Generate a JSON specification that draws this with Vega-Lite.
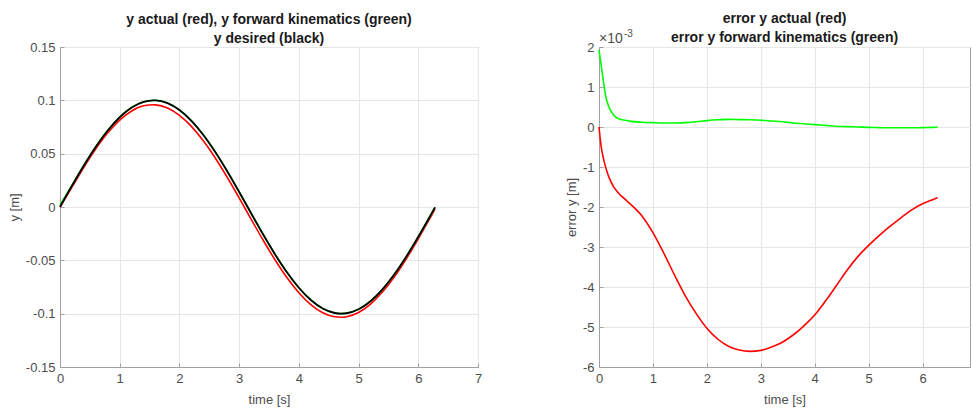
{
  "$schema": "https://vega.github.io/schema/vega-lite/v6.json",
  "padding": {"left": 7, "right": 0, "top": 11, "bottom": 0},
  "background": "white",
  "datasets": {
    "pos": [
      {"t": 0, "desired": 0, "actual": 0, "fk": 0.00193},
      {"t": 0.2, "desired": 0.019867, "actual": 0.01857, "fk": 0.02032},
      {"t": 0.4, "desired": 0.038942, "actual": 0.03724, "fk": 0.03913},
      {"t": 0.6, "desired": 0.056464, "actual": 0.05451, "fk": 0.0566},
      {"t": 0.8, "desired": 0.071736, "actual": 0.06951, "fk": 0.07186},
      {"t": 1.0, "desired": 0.084147, "actual": 0.08151, "fk": 0.08426},
      {"t": 1.2, "desired": 0.093204, "actual": 0.09005, "fk": 0.0933},
      {"t": 1.4, "desired": 0.098545, "actual": 0.09485, "fk": 0.09865},
      {"t": 1.57, "desired": 0.1, "actual": 0.09585, "fk": 0.10011},
      {"t": 1.6, "desired": 0.099957, "actual": 0.09574, "fk": 0.10007},
      {"t": 1.8, "desired": 0.097385, "actual": 0.09273, "fk": 0.09752},
      {"t": 2.0, "desired": 0.09093, "actual": 0.0859, "fk": 0.09109},
      {"t": 2.2, "desired": 0.08085, "actual": 0.07555, "fk": 0.08103},
      {"t": 2.4, "desired": 0.067546, "actual": 0.06207, "fk": 0.06774},
      {"t": 2.6, "desired": 0.05155, "actual": 0.04598, "fk": 0.05173},
      {"t": 2.8, "desired": 0.033499, "actual": 0.02789, "fk": 0.03368},
      {"t": 3.0, "desired": 0.014112, "actual": 0.00852, "fk": 0.01428},
      {"t": 3.2, "desired": -0.005837, "actual": -0.01134, "fk": -0.00569},
      {"t": 3.4, "desired": -0.025554, "actual": -0.03093, "fk": -0.02542},
      {"t": 3.6, "desired": -0.044252, "actual": -0.04945, "fk": -0.04415},
      {"t": 3.8, "desired": -0.061186, "actual": -0.06616, "fk": -0.06111},
      {"t": 4.0, "desired": -0.07568, "actual": -0.08038, "fk": -0.07562},
      {"t": 4.2, "desired": -0.087158, "actual": -0.09151, "fk": -0.08712},
      {"t": 4.4, "desired": -0.09516, "actual": -0.09913, "fk": -0.09514},
      {"t": 4.6, "desired": -0.099369, "actual": -0.10295, "fk": -0.09936},
      {"t": 4.71, "desired": -0.1, "actual": -0.10339, "fk": -0.1},
      {"t": 4.8, "desired": -0.099616, "actual": -0.10286, "fk": -0.09962},
      {"t": 5.0, "desired": -0.095892, "actual": -0.09885, "fk": -0.0959},
      {"t": 5.2, "desired": -0.088345, "actual": -0.09106, "fk": -0.08835},
      {"t": 5.4, "desired": -0.077276, "actual": -0.07976, "fk": -0.0773},
      {"t": 5.6, "desired": -0.063127, "actual": -0.0654, "fk": -0.06315},
      {"t": 5.8, "desired": -0.04646, "actual": -0.04853, "fk": -0.04648},
      {"t": 6.0, "desired": -0.027942, "actual": -0.02986, "fk": -0.02796},
      {"t": 6.2, "desired": -0.008309, "actual": -0.01012, "fk": -0.00832},
      {"t": 6.28, "desired": -0.000319, "actual": -0.00209, "fk": -0.00032}
    ],
    "err": [
      {"t": 0, "ea": 0, "ef": 0.00193},
      {"t": 0.04, "ea": -0.00049, "ef": 0.00155},
      {"t": 0.08, "ea": -0.00077, "ef": 0.00116},
      {"t": 0.12, "ea": -0.00099, "ef": 0.0008},
      {"t": 0.18, "ea": -0.00124, "ef": 0.00051},
      {"t": 0.27, "ea": -0.00149, "ef": 0.0003},
      {"t": 0.36, "ea": -0.00165, "ef": 0.00021},
      {"t": 0.46, "ea": -0.00178, "ef": 0.000175},
      {"t": 0.6, "ea": -0.00195, "ef": 0.00014},
      {"t": 0.8, "ea": -0.00223, "ef": 0.00012},
      {"t": 1.0, "ea": -0.00264, "ef": 0.00011},
      {"t": 1.2, "ea": -0.00315, "ef": 0.0001},
      {"t": 1.4, "ea": -0.0037, "ef": 0.0001},
      {"t": 1.6, "ea": -0.00422, "ef": 0.00011},
      {"t": 1.8, "ea": -0.00466, "ef": 0.00013},
      {"t": 2.0, "ea": -0.00503, "ef": 0.00016},
      {"t": 2.2, "ea": -0.0053, "ef": 0.00018},
      {"t": 2.4, "ea": -0.00548, "ef": 0.00019},
      {"t": 2.6, "ea": -0.005575, "ef": 0.000185},
      {"t": 2.8, "ea": -0.00561, "ef": 0.00018},
      {"t": 3.0, "ea": -0.005585, "ef": 0.00017},
      {"t": 3.2, "ea": -0.0055, "ef": 0.00015},
      {"t": 3.4, "ea": -0.00538, "ef": 0.00013},
      {"t": 3.6, "ea": -0.0052, "ef": 0.0001},
      {"t": 3.8, "ea": -0.00497, "ef": 0.00008},
      {"t": 4.0, "ea": -0.0047, "ef": 0.00006},
      {"t": 4.2, "ea": -0.00435, "ef": 0.00004},
      {"t": 4.4, "ea": -0.00397, "ef": 0.00002},
      {"t": 4.6, "ea": -0.00358, "ef": 0.00001},
      {"t": 4.8, "ea": -0.00324, "ef": 0.0},
      {"t": 5.0, "ea": -0.00296, "ef": -0.00001},
      {"t": 5.2, "ea": -0.00271, "ef": -0.000015},
      {"t": 5.4, "ea": -0.00248, "ef": -0.00002},
      {"t": 5.6, "ea": -0.00227, "ef": -0.00002},
      {"t": 5.8, "ea": -0.00207, "ef": -0.00002},
      {"t": 6.0, "ea": -0.00192, "ef": -0.000015},
      {"t": 6.2, "ea": -0.00181, "ef": -0.00001},
      {"t": 6.28, "ea": -0.00177, "ef": 0.0}
    ]
  },
  "spacing": 81,
  "hconcat": [
    {
      "width": 418,
      "height": 320,
      "title": {"text": ["y actual (red), y forward kinematics (green)", "y desired (black)"]},
      "data": {"name": "pos"},
      "encoding": {
        "x": {"field": "t", "type": "quantitative", "scale": {"domain": [0, 7], "nice": false}, "axis": {"title": "time [s]", "values": [0, 1, 2, 3, 4, 5, 6, 7]}}
      },
      "layer": [
        {"mark": {"type": "line", "color": "#ff0000", "strokeWidth": 1.6, "interpolate": "monotone"},
         "encoding": {"y": {"field": "actual", "type": "quantitative", "scale": {"domain": [-0.15, 0.15], "nice": false}, "axis": {"title": "y [m]", "values": [-0.15, -0.1, -0.05, 0, 0.05, 0.1, 0.15], "labelExpr": "toString(datum.value)"}}}},
        {"mark": {"type": "line", "color": "#00ff00", "strokeWidth": 1.6, "interpolate": "monotone"},
         "encoding": {"y": {"field": "fk", "type": "quantitative", "scale": {"domain": [-0.15, 0.15], "nice": false}, "axis": {"title": "y [m]", "values": [-0.15, -0.1, -0.05, 0, 0.05, 0.1, 0.15], "labelExpr": "toString(datum.value)"}}}},
        {"mark": {"type": "line", "color": "#000000", "strokeWidth": 1.8, "interpolate": "monotone"},
         "encoding": {"y": {"field": "desired", "type": "quantitative", "scale": {"domain": [-0.15, 0.15], "nice": false}, "axis": {"title": "y [m]", "values": [-0.15, -0.1, -0.05, 0, 0.05, 0.1, 0.15], "labelExpr": "toString(datum.value)"}}}}
      ]
    },
    {
      "width": 371,
      "height": 320,
      "title": {"text": ["error y actual (red)", "error y forward kinematics (green)"], "dy": 11},
      "data": {"name": "err"},
      "encoding": {
        "x": {"field": "t", "type": "quantitative", "scale": {"domain": [0, 6.88], "nice": false}, "axis": {"title": "time [s]", "values": [0, 1, 2, 3, 4, 5, 6]}}
      },
      "layer": [
        {"mark": {"type": "line", "color": "#00ff00", "strokeWidth": 1.6, "interpolate": "monotone"},
         "encoding": {"y": {"field": "ef", "type": "quantitative", "scale": {"domain": [-0.006, 0.002], "nice": false}, "axis": {"title": "error y [m]", "values": [-0.006, -0.005, -0.004, -0.003, -0.002, -0.001, 0, 0.001, 0.002], "labelExpr": "toString(round(datum.value * 1000))"}}}},
        {"mark": {"type": "line", "color": "#ff0000", "strokeWidth": 1.6, "interpolate": "monotone"},
         "encoding": {"y": {"field": "ea", "type": "quantitative", "scale": {"domain": [-0.006, 0.002], "nice": false}, "axis": {"title": "error y [m]", "values": [-0.006, -0.005, -0.004, -0.003, -0.002, -0.001, 0, 0.001, 0.002], "labelExpr": "toString(round(datum.value * 1000))"}}}},
        {"data": {"values": [{"t": 0, "v": 0.002, "label": "×10"}]},
         "mark": {"type": "text", "align": "left", "baseline": "bottom", "dy": -1, "fontSize": 14, "color": "#4d4d4d", "font": "Liberation Sans"},
         "encoding": {"y": {"field": "v", "type": "quantitative", "scale": {"domain": [-0.006, 0.002], "nice": false}, "axis": {"title": "error y [m]", "values": [-0.006, -0.005, -0.004, -0.003, -0.002, -0.001, 0, 0.001, 0.002], "labelExpr": "toString(round(datum.value * 1000))"}}, "text": {"field": "label"}}},
        {"data": {"values": [{"t": 0, "v": 0.002, "label": "-3"}]},
         "mark": {"type": "text", "align": "left", "baseline": "bottom", "dx": 25, "dy": -8, "fontSize": 10, "color": "#4d4d4d", "font": "Liberation Sans"},
         "encoding": {"y": {"field": "v", "type": "quantitative", "scale": {"domain": [-0.006, 0.002], "nice": false}, "axis": {"title": "error y [m]", "values": [-0.006, -0.005, -0.004, -0.003, -0.002, -0.001, 0, 0.001, 0.002], "labelExpr": "toString(round(datum.value * 1000))"}}, "text": {"field": "label"}}}
      ]
    }
  ],
  "config": {
    "font": "Liberation Sans",
    "view": {"stroke": "#a0a0a0", "strokeWidth": 1},
    "title": {"fontSize": 14, "fontWeight": "bold", "color": "#1a1a1a", "offset": -5, "lineHeight": 19, "anchor": "middle"},
    "axis": {
      "labelFont": "Liberation Sans",
      "titleFont": "Liberation Sans",
      "labelFontSize": 13,
      "titleFontSize": 13,
      "titleFontWeight": "normal",
      "labelColor": "#4d4d4d",
      "titleColor": "#4d4d4d",
      "domainColor": "#a0a0a0",
      "tickColor": "#a0a0a0",
      "gridColor": "#e6e6e6",
      "grid": true,
      "tickSize": -4,
      "labelPadding": 9,
      "labelFlush": false,
      "labelOverlap": false
    },
    "axisX": {"titlePadding": 8},
    "axisY": {"titlePadding": 4}
  }
}
